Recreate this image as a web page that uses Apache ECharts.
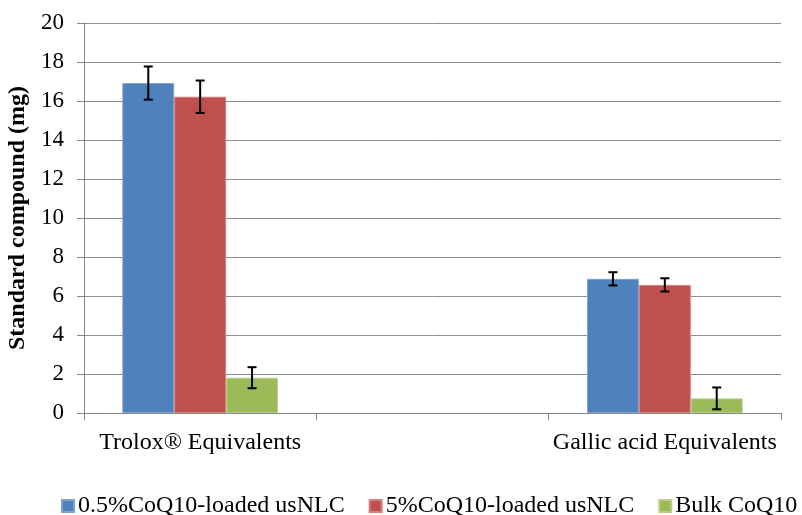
<!DOCTYPE html>
<html>
<head>
<meta charset="utf-8">
<title>Standard compound equivalents</title>
<script src="https://cdn.jsdelivr.net/npm/echarts@6/dist/echarts.min.js"></script>
<style>
  html, body { margin: 0; padding: 0; background: #fff; }
  #chart { width: 802px; height: 515px; }
</style>
</head>
<body>
<div id="chart"></div>
<script>
// Categories (the middle slot is left empty to space the two groups apart)
const categories = ['Trolox® Equivalents', '', 'Gallic acid Equivalents'];
const seriesNames = ['0.5%CoQ10-loaded usNLC', '5%CoQ10-loaded usNLC', 'Bulk CoQ10'];
const colors = ['#4F81BD', '#C0504D', '#9BBB59'];
const borderColors = ['#7FA2D0', '#D4807E', '#B7CF88'];

// Mean values (mg)
const loaded05 = [16.92, null, 6.88];
const loaded5 = [16.22, null, 6.57];
const bulk = [1.81, null, 0.75];

// Standard deviations (mg)
const loaded05Err = [0.85, null, 0.34];
const loaded5Err = [0.83, null, 0.34];
const bulkErr = [0.54, null, 0.56];

const yTicks = { min: 0, max: 20, interval: 2 };

const means = [loaded05, loaded5, bulk];
const errs = [loaded05Err, loaded5Err, bulkErr];
const CATEGORY_GAP = 0.33;
const FONT = '"Liberation Serif", "Times New Roman", serif';

const barSeries = means.map((vals, i) => ({
  name: seriesNames[i],
  type: 'bar',
  data: vals.map(v => (v === null ? '-' : v)),
  barGap: '0%',
  barCategoryGap: (CATEGORY_GAP * 100) + '%',
  itemStyle: { color: colors[i], borderColor: borderColors[i], borderWidth: 1 },
  emphasis: { disabled: true },
  z: 2
}));

// Error bars drawn over each bar, offset to that bar's slot in the category
const errorSeries = means.map((vals, i) => {
  const data = [];
  vals.forEach((v, c) => {
    if (v !== null) data.push([c, v - errs[i][c], v + errs[i][c]]);
  });
  return {
    type: 'custom',
    name: seriesNames[i] + ' error',
    data: data,
    z: 5,
    silent: true,
    renderItem: function (params, api) {
      const c = api.value(0);
      const lo = api.coord([c, api.value(1)]);
      const hi = api.coord([c, api.value(2)]);
      const band = api.size([1, 0])[0];
      const barW = band * (1 - CATEGORY_GAP) / 3;
      const x = lo[0] + (i - 1) * barW;
      const cap = 4.5;
      const style = { stroke: '#000', lineWidth: 2 };
      return {
        type: 'group',
        children: [
          { type: 'line', shape: { x1: x, y1: lo[1], x2: x, y2: hi[1] }, style: style },
          { type: 'line', shape: { x1: x - cap, y1: lo[1], x2: x + cap, y2: lo[1] }, style: style },
          { type: 'line', shape: { x1: x - cap, y1: hi[1], x2: x + cap, y2: hi[1] }, style: style }
        ]
      };
    }
  };
});

const chart = echarts.init(document.getElementById('chart'), null, { renderer: 'canvas' });
chart.setOption({
  animation: false,
  backgroundColor: '#fff',
  textStyle: { fontFamily: FONT, color: '#000' },
  grid: { left: 84, right: 21, top: 23, bottom: 102, containLabel: false, outerBoundsMode: 'none' },
  legend: {
    data: seriesNames,
    bottom: -8,
    left: 56,
    width: 746,
    itemWidth: 12,
    itemHeight: 12,
    itemGap: 24,
    icon: 'rect',
    textStyle: { fontFamily: FONT, fontSize: 24, color: '#000', padding: [0, 0, 0, -1] }
  },
  xAxis: {
    type: 'category',
    data: categories,
    boundaryGap: true,
    axisLine: { lineStyle: { color: '#868686', width: 1 } },
    axisTick: { show: true, alignWithLabel: false, length: 7, lineStyle: { color: '#868686' } },
    axisLabel: { fontFamily: FONT, fontSize: 24, color: '#000', margin: 18, interval: 0 },
    splitLine: { show: false }
  },
  yAxis: {
    type: 'value',
    min: yTicks.min,
    max: yTicks.max,
    interval: yTicks.interval,
    name: 'Standard compound (mg)',
    nameLocation: 'middle',
    nameGap: 43,
    nameTextStyle: { fontFamily: FONT, fontSize: 24, fontWeight: 'bold', color: '#000' },
    axisLine: { show: true, lineStyle: { color: '#868686', width: 1 } },
    axisTick: { show: true, length: 7, lineStyle: { color: '#868686' } },
    axisLabel: { fontFamily: FONT, fontSize: 23, color: '#000', margin: 20 },
    splitLine: { show: true, lineStyle: { color: '#8C8C8C', width: 1 } }
  },
  series: barSeries.concat(errorSeries)
});
</script>
</body>
</html>
